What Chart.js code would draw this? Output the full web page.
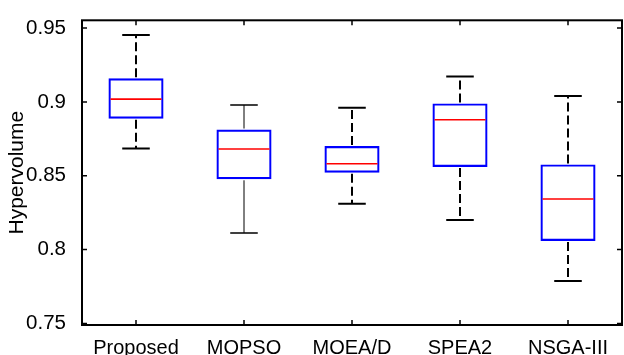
<!DOCTYPE html>
<html>
<head>
<meta charset="utf-8">
<script src="https://cdn.jsdelivr.net/npm/chart.js@4.4.0/dist/chart.umd.min.js"></script>
<style>
html,body{margin:0;padding:0;background:#fff;}
#wrap{width:624px;height:355px;}
</style>
</head>
<body>
<div id="wrap"><canvas id="c" width="624" height="355"></canvas></div>
<script>
const categories = ['Proposed', 'MOPSO', 'MOEA/D', 'SPEA2', 'NSGA-III'];
const whiskerLow  = [0.8685, 0.8113, 0.8310, 0.8200, 0.7787];
const q1          = [0.8886, 0.8476, 0.8520, 0.8560, 0.8058];
const median      = [0.9019, 0.8681, 0.8581, 0.8879, 0.8343];
const q3          = [0.9160, 0.8813, 0.8701, 0.8990, 0.8577];
const whiskerHigh = [0.9454, 0.8979, 0.8961, 0.9173, 0.9040];
const yTicks      = [0.75, 0.8, 0.85, 0.9, 0.95];
const yMin = 0.7489, yMax = 0.9553;

const boxPlugin = {
  id: 'boxParts',
  afterDatasetsDraw(chart, args, opts) {
    const ctx = chart.ctx;
    const xs = chart.scales.x, ys = chart.scales.y;
    const meta = chart.getDatasetMeta(0);
    ctx.save();
    categories.forEach((c, i) => {
      const bar = meta.data[i];
      const cx = xs.getPixelForValue(i);
      const half = bar.width / 2;
      const capHalf = half / 2;
      const pLow = ys.getPixelForValue(whiskerLow[i]);
      const pQ1 = ys.getPixelForValue(q1[i]);
      const pQ3 = ys.getPixelForValue(q3[i]);
      const pHigh = ys.getPixelForValue(whiskerHigh[i]);
      const pMed = ys.getPixelForValue(median[i]);
      const solid = opts.solidIndex.includes(i);
      ctx.strokeStyle = '#000';
      ctx.lineWidth = solid ? 1 : 2;
      ctx.setLineDash(solid ? [] : [9, 4]);
      ctx.beginPath();
      ctx.moveTo(cx, pQ3 - 1); ctx.lineTo(cx, pHigh);
      ctx.moveTo(cx, pQ1 + 1); ctx.lineTo(cx, pLow);
      ctx.stroke();
      ctx.setLineDash([]);
      ctx.lineWidth = solid ? 1.5 : 2;
      ctx.beginPath();
      ctx.moveTo(cx - capHalf, pHigh); ctx.lineTo(cx + capHalf, pHigh);
      ctx.moveTo(cx - capHalf, pLow); ctx.lineTo(cx + capHalf, pLow);
      ctx.stroke();
      ctx.strokeStyle = '#ff0000';
      ctx.lineWidth = 1.6;
      ctx.beginPath();
      ctx.moveTo(cx - half + 2, pMed); ctx.lineTo(cx + half - 2, pMed);
      ctx.stroke();
    });
    const a = chart.chartArea;
    ctx.strokeStyle = '#000';
    ctx.lineWidth = 2;
    ctx.strokeRect(a.left, a.top, a.right - a.left, a.bottom - a.top);
    ctx.lineWidth = 1.5;
    ctx.beginPath();
    yTicks.forEach(v => {
      const py = ys.getPixelForValue(v);
      ctx.moveTo(a.left, py); ctx.lineTo(a.left + 5, py);
      ctx.moveTo(a.right, py); ctx.lineTo(a.right - 5, py);
    });
    categories.forEach((c, i) => {
      const px = xs.getPixelForValue(i);
      ctx.moveTo(px, a.top); ctx.lineTo(px, a.top + 5);
      ctx.moveTo(px, a.bottom); ctx.lineTo(px, a.bottom - 5);
    });
    ctx.stroke();
    ctx.restore();
  }
};

new Chart(document.getElementById('c'), {
  type: 'bar',
  data: {
    labels: categories,
    datasets: [{
      data: q1.map((v, i) => [v, q3[i]]),
      backgroundColor: 'rgba(255,255,255,0)',
      borderColor: '#0000ff',
      borderWidth: 2.2,
      borderSkipped: false,
      categoryPercentage: 1,
      barPercentage: 0.51
    }]
  },
  options: {
    responsive: false,
    animation: false,
    devicePixelRatio: 1,
    layout: { padding: { top: 13, right: 2, left: 0, bottom: 0 } },
    plugins: {
      legend: { display: false },
      tooltip: { enabled: false },
      boxParts: { solidIndex: [1] }
    },
    scales: {
      x: {
        grid: { display: false },
        border: { display: false },
        ticks: {
          color: '#000',
          padding: 3,
          maxRotation: 0,
          font: { family: 'Liberation Sans, Arial, sans-serif', size: 20 }
        },
        afterFit(s) { s.height = 30; }
      },
      y: {
        min: yMin,
        max: yMax,
        grid: { display: false },
        border: { display: false },
        afterBuildTicks(s) { s.ticks = yTicks.map(v => ({ value: v })); },
        ticks: {
          color: '#000',
          padding: 8,
          font: { family: 'Liberation Sans, Arial, sans-serif', size: 20.5 },
          callback: v => String(v)
        },
        title: {
          display: true,
          text: 'Hypervolume',
          color: '#000',
          padding: { top: 5, bottom: 0 },
          font: { family: 'Liberation Sans, Arial, sans-serif', size: 21 }
        },
        afterFit(s) { s.width = 82; }
      }
    }
  },
  plugins: [boxPlugin]
});
</script>
</body>
</html>
